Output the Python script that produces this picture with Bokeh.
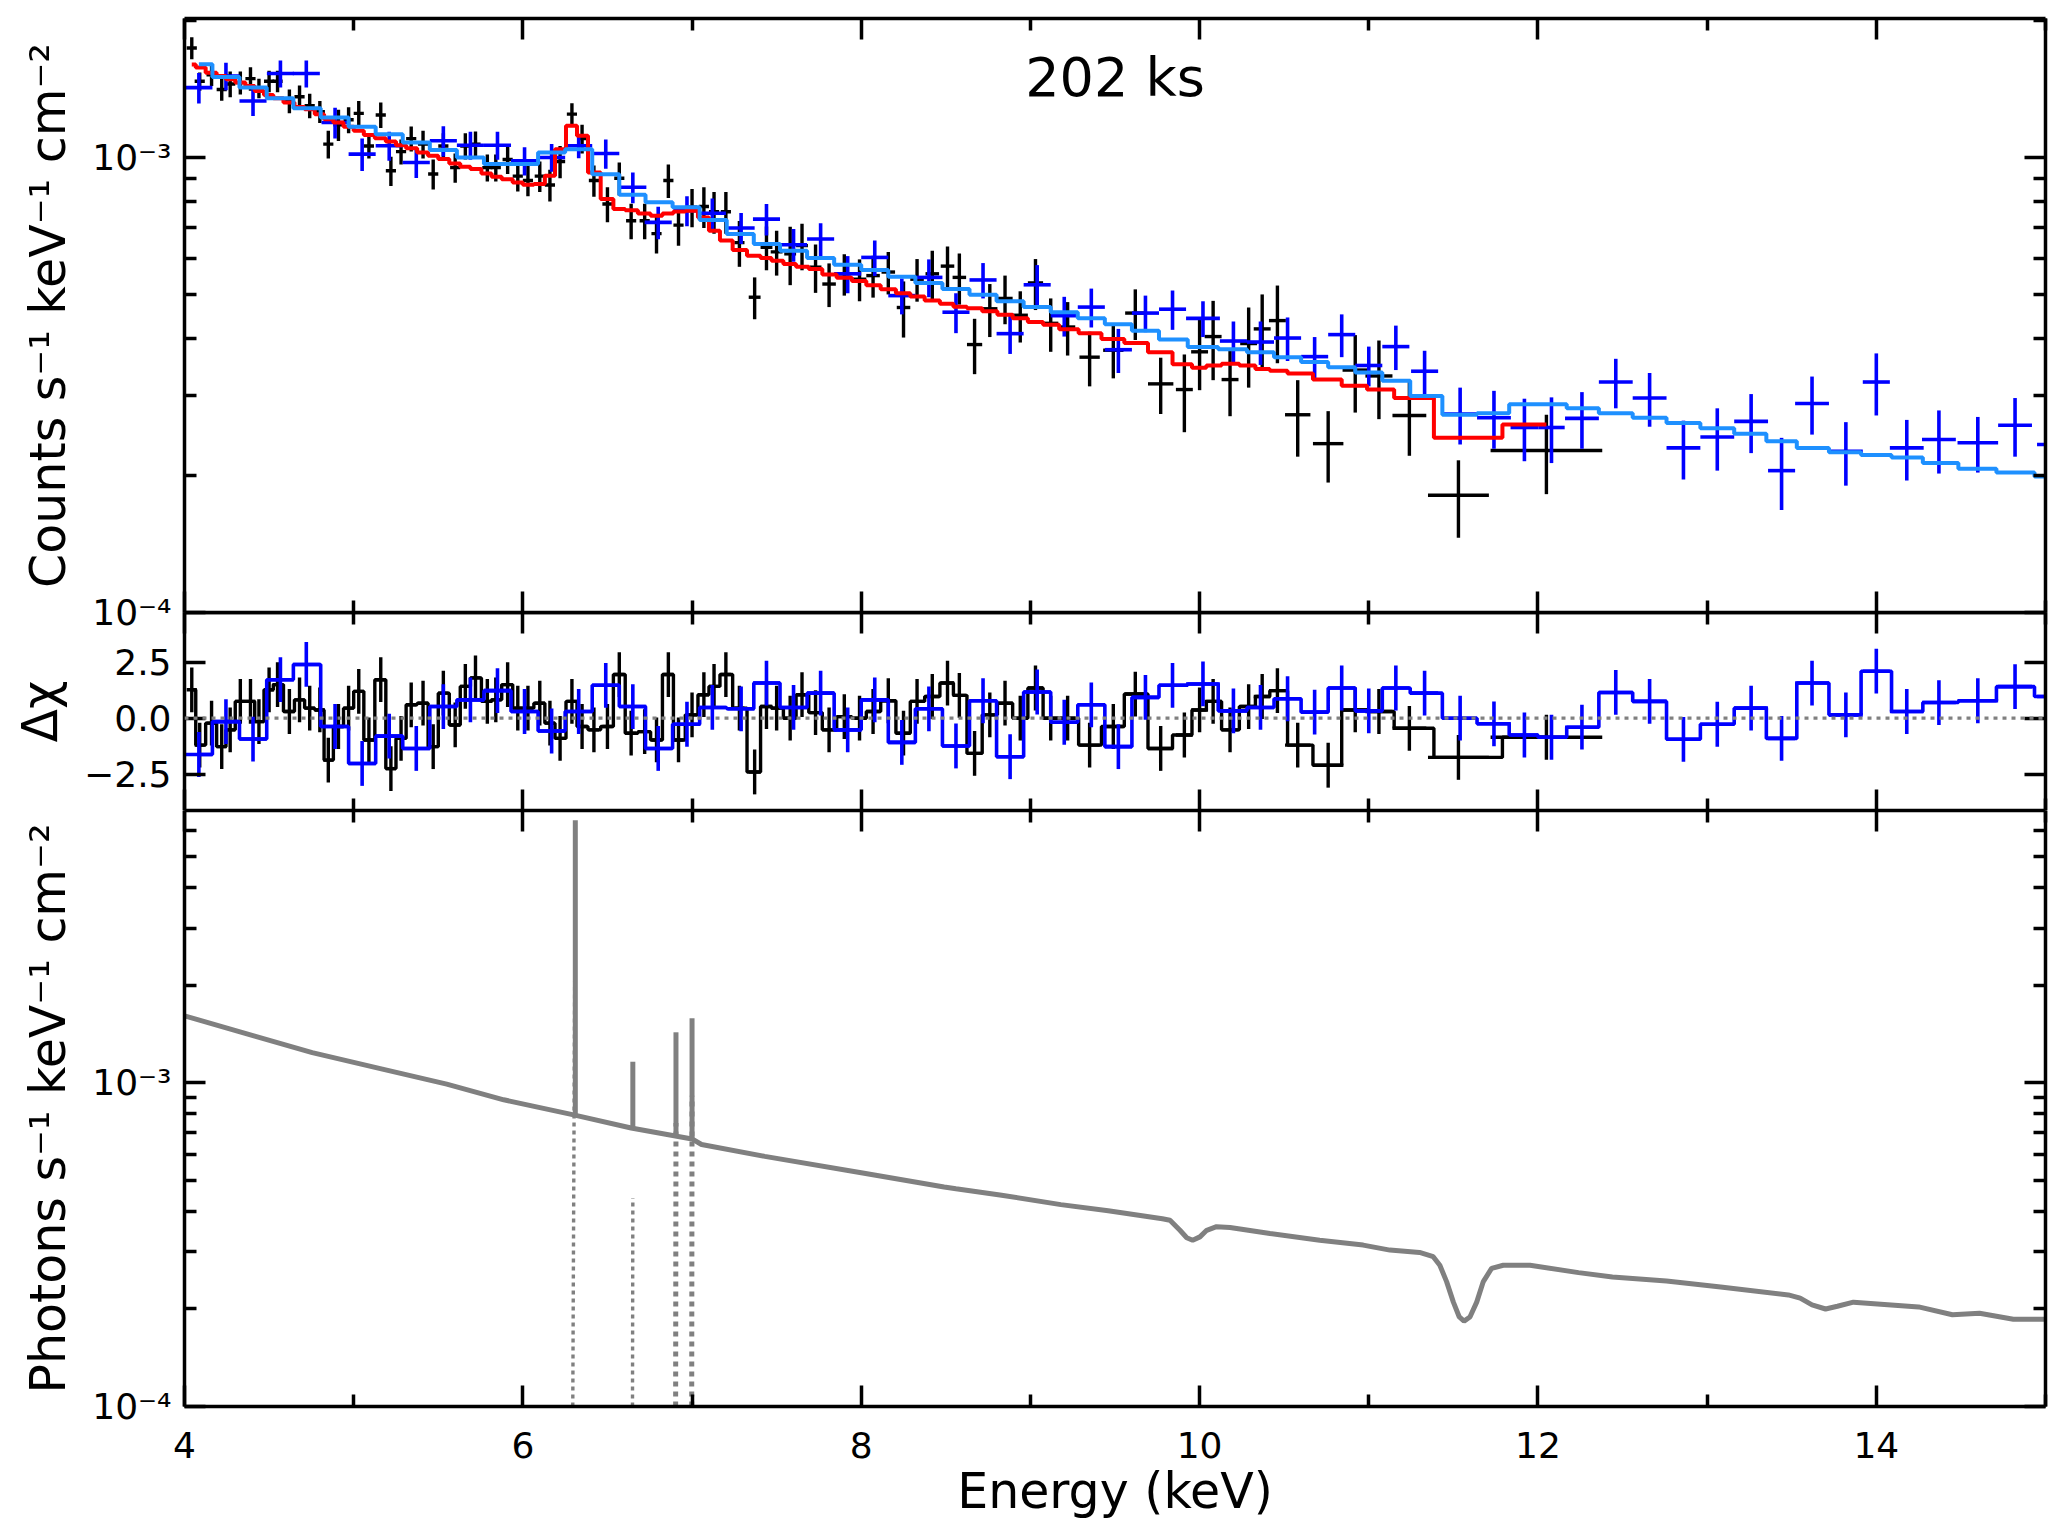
import numpy as np
from bokeh.plotting import figure
from bokeh.layouts import column
from bokeh.models import Range1d, FixedTicker, LinearAxis, LogAxis, CustomJSTickFormatter, Span
from bokeh.core.properties import value
from bokeh.embed import file_html
from bokeh.resources import INLINE

FONT = "DejaVu Sans"

# ---------------- data (values in units of 1e-3 where noted) ----------------
blk_E = [4.043, 4.09, 4.16, 4.22, 4.27, 4.33, 4.39, 4.44, 4.50, 4.55,
         4.62, 4.68, 4.74, 4.80, 4.85, 4.91, 4.97, 5.03, 5.09, 5.16,
         5.22, 5.28, 5.34, 5.41, 5.47, 5.53, 5.60, 5.66, 5.72, 5.79,
         5.84, 5.91, 5.97, 6.03, 6.10, 6.16, 6.22, 6.29, 6.35, 6.42,
         6.50, 6.57, 6.64, 6.72, 6.79, 6.86, 6.92, 7.00, 7.07, 7.13,
         7.20, 7.28, 7.37, 7.44, 7.50, 7.58, 7.65, 7.73,
         7.81, 7.90, 7.99, 8.07, 8.16, 8.25, 8.33, 8.42, 8.51, 8.58,
         8.67, 8.76, 8.85, 8.94, 9.03, 9.12, 9.22, 9.35, 9.49, 9.62,
         9.77, 9.91, 10.0, 10.08, 10.18, 10.29, 10.37, 10.46, 10.58, 10.76,
         10.92, 11.06, 11.24, 11.53, 12.05]
blk_xerr = [0.03, 0.03, 0.03, 0.03, 0.03, 0.03, 0.03, 0.03, 0.03, 0.03,
            0.03, 0.03, 0.03, 0.03, 0.03, 0.03, 0.03, 0.03, 0.03, 0.03,
            0.03, 0.03, 0.03, 0.03, 0.03, 0.03, 0.03, 0.03, 0.03, 0.03,
            0.03, 0.03, 0.03, 0.03, 0.03, 0.03, 0.03, 0.03, 0.03, 0.03,
            0.03, 0.03, 0.03, 0.03, 0.03, 0.03, 0.03, 0.03, 0.03, 0.03,
            0.03, 0.03, 0.035, 0.035, 0.035, 0.035, 0.035, 0.035,
            0.04, 0.04, 0.04, 0.04, 0.04, 0.04, 0.04, 0.04, 0.04, 0.04,
            0.045, 0.045, 0.045, 0.045, 0.045, 0.045, 0.045, 0.06, 0.06, 0.06,
            0.075, 0.05, 0.05, 0.05, 0.05, 0.05, 0.05, 0.05, 0.075, 0.09,
            0.075, 0.08, 0.1, 0.18, 0.33]
blk_val = [1.74, 1.47, 1.52, 1.41, 1.45, 1.46, 1.49, 1.42, 1.47, 1.47,
           1.33, 1.36, 1.30, 1.26, 1.07, 1.18, 1.21, 1.25, 1.06, 1.24,
           0.935, 1.03, 1.10, 1.07, 0.92, 1.06, 0.95, 1.06, 1.07, 0.95,
           0.95, 0.99, 0.91, 0.89, 0.91, 0.87, 0.98, 1.245, 1.10, 0.89,
           0.79, 0.90, 0.726, 0.726, 0.68, 0.89, 0.71, 0.777, 0.78, 0.76,
           0.76, 0.65, 0.493, 0.635, 0.62, 0.614, 0.64, 0.574,
           0.527, 0.555, 0.54, 0.55, 0.56, 0.468, 0.54, 0.555, 0.577, 0.545,
           0.388, 0.465, 0.49, 0.45, 0.53, 0.432, 0.424, 0.364, 0.377, 0.455,
           0.318, 0.309, 0.374, 0.404, 0.325, 0.39, 0.42, 0.438, 0.272, 0.235,
           0.341, 0.331, 0.271, 0.181, 0.227]
blk_err = [0.096, 0.068, 0.085, 0.078, 0.094, 0.085, 0.088, 0.07, 0.08, 0.08,
           0.08, 0.08, 0.08, 0.07, 0.075, 0.093, 0.08, 0.08, 0.065, 0.08,
           0.069, 0.065, 0.07, 0.075, 0.07, 0.07, 0.07, 0.07, 0.07, 0.065,
           0.065, 0.07, 0.068, 0.068, 0.07, 0.07, 0.08, 0.07, 0.08, 0.07,
           0.07, 0.075, 0.065, 0.065, 0.065, 0.075, 0.07, 0.075, 0.08, 0.08,
           0.08, 0.075, 0.052, 0.07, 0.07, 0.09, 0.075, 0.07,
           0.058, 0.058, 0.057, 0.058, 0.06, 0.066, 0.058, 0.069, 0.06, 0.07,
           0.054, 0.062, 0.06, 0.058, 0.068, 0.058, 0.057, 0.05, 0.05, 0.058,
           0.045, 0.06, 0.066, 0.08, 0.055, 0.078, 0.08, 0.085, 0.052, 0.042,
           0.066, 0.065, 0.05, 0.035, 0.045]
blk_mod = [1.60, 1.576, 1.536, 1.51, 1.486, 1.461, 1.436, 1.40, 1.372, 1.349,
           1.32, 1.291, 1.276, 1.245, 1.214, 1.193, 1.168, 1.144, 1.121, 1.102,
           1.084, 1.064, 1.048, 1.026, 1.009, 0.992, 0.970, 0.954, 0.943, 0.922,
           0.907, 0.896, 0.881, 0.871, 0.874, 0.911, 1.043, 1.174, 1.116, 0.927,
           0.810, 0.770, 0.766, 0.753, 0.745, 0.753, 0.761, 0.764, 0.738, 0.690,
           0.657, 0.626, 0.608, 0.601, 0.593, 0.583, 0.575, 0.569,
           0.553, 0.544, 0.535, 0.524, 0.513, 0.503, 0.495, 0.485, 0.477, 0.470,
           0.466, 0.459, 0.451, 0.443, 0.435, 0.429, 0.419, 0.411, 0.399, 0.391,
           0.373, 0.351, 0.345, 0.349, 0.352, 0.349, 0.343, 0.340, 0.335, 0.325,
           0.315, 0.309, 0.296, 0.242, 0.259]
blk_res = [1.27, -1.2, -0.22, -1.27, -0.52, 0.75, 0.75, -0.15, 1.27, 1.5,
           0.3, 0.82, 0.45, 0.37, -1.87, -0.37, 0.45, 1.2, -0.97, 1.72,
           -2.25, -0.9, 0.6, 0.67, -1.27, 1.12, -0.3, 1.42, 1.8, 0.75,
           0.82, 1.5, 0.45, 0.45, 0.67, -0.22, -0.9, 0.75, -0.37, -0.52,
           -0.37, 1.95, -0.67, -0.6, -0.97, 1.95, -0.97, 0.15, 1.05, 1.42,
           1.95, 0.45, -2.4, 0.52, 0.45, 0.0, 1.05, 0.25,
           -0.52, 0.07, 0.0, 0.3, 0.78, -0.67, 0.75, 0.97, 1.57, 1.02,
           -1.57, 0.15, 0.67, 0.0, 1.35, 0.0, 0.0, -1.2, -0.37, 1.08,
           -1.35, -0.75, 0.37, 0.75, -0.52, 0.52, 0.97, 1.23, -1.2, -2.1,
           0.37, 0.3, -0.45, -1.75, -0.85]

blu_E = [4.085, 4.245, 4.405, 4.567, 4.72, 4.89, 5.05, 5.21, 5.37, 5.53,
         5.69, 5.85, 6.01, 6.17, 6.33, 6.49, 6.65, 6.80, 6.97, 7.12,
         7.29, 7.44, 7.60, 7.76, 7.92, 8.08, 8.24, 8.40, 8.56, 8.72,
         8.88, 9.04, 9.20, 9.36, 9.52, 9.68, 9.84, 10.02, 10.20, 10.36,
         10.52, 10.68, 10.84, 11.00, 11.16, 11.33, 11.54, 11.74, 11.92, 12.08,
         12.26, 12.46, 12.66, 12.86, 13.06, 13.26, 13.44, 13.62, 13.82, 14.0,
         14.18, 14.37, 14.60, 14.82, 15.05]
blu_xerr = [0.08, 0.08, 0.08, 0.08, 0.08, 0.08, 0.08, 0.08, 0.08, 0.08,
            0.08, 0.08, 0.08, 0.08, 0.08, 0.08, 0.08, 0.08, 0.08, 0.08,
            0.08, 0.08, 0.08, 0.08, 0.08, 0.08, 0.08, 0.08, 0.08, 0.08,
            0.08, 0.08, 0.08, 0.08, 0.08, 0.08, 0.08, 0.1, 0.08, 0.08,
            0.08, 0.08, 0.08, 0.08, 0.08, 0.08, 0.1, 0.1, 0.082, 0.078,
            0.1, 0.1, 0.1, 0.1, 0.1, 0.1, 0.08, 0.1, 0.1, 0.08,
            0.1, 0.1, 0.12, 0.1, 0.1]
blu_val = [1.424, 1.51, 1.331, 1.529, 1.529, 1.193, 1.017, 1.061, 0.975, 1.088,
           1.064, 1.064, 0.983, 1.0, 1.061, 1.02, 0.86, 0.72, 0.764, 0.754,
           0.70, 0.732, 0.643, 0.662, 0.555, 0.603, 0.497, 0.545, 0.457, 0.538,
           0.410, 0.525, 0.449, 0.469, 0.378, 0.455, 0.464, 0.443, 0.395, 0.393,
           0.401, 0.365, 0.408, 0.349, 0.384, 0.339, 0.273, 0.268, 0.255, 0.255,
           0.267, 0.321, 0.296, 0.230, 0.243, 0.263, 0.205, 0.288, 0.226, 0.321,
           0.230, 0.240, 0.236, 0.258, 0.234]
blu_err = [0.11, 0.105, 0.097, 0.105, 0.105, 0.093, 0.083, 0.078, 0.074, 0.083,
           0.075, 0.075, 0.07, 0.07, 0.065, 0.075, 0.067, 0.059, 0.058, 0.058,
           0.055, 0.058, 0.053, 0.055, 0.052, 0.054, 0.045, 0.052, 0.046, 0.048,
           0.04, 0.055, 0.045, 0.046, 0.042, 0.042, 0.046, 0.040, 0.041, 0.043,
           0.044, 0.038, 0.044, 0.035, 0.043, 0.037, 0.039, 0.039, 0.04, 0.042,
           0.038, 0.04, 0.04, 0.034, 0.038, 0.039, 0.037, 0.042, 0.036, 0.05,
           0.035, 0.038, 0.033, 0.038, 0.036]
blu_mod = [1.603, 1.503, 1.424, 1.35, 1.283, 1.224, 1.168, 1.125, 1.079, 1.038,
           1.0, 0.967, 0.967, 1.026, 1.043, 0.919, 0.828, 0.797, 0.777, 0.729,
           0.679, 0.645, 0.624, 0.601, 0.581, 0.566, 0.547, 0.530, 0.514, 0.499,
           0.483, 0.469, 0.457, 0.443, 0.430, 0.416, 0.398, 0.383, 0.379, 0.373,
           0.364, 0.355, 0.346, 0.337, 0.323, 0.299, 0.272, 0.274, 0.287, 0.287,
           0.281, 0.274, 0.268, 0.261, 0.254, 0.247, 0.238, 0.230, 0.225, 0.222,
           0.219, 0.213, 0.207, 0.203, 0.199]
blu_res = [-1.62, -0.15, -0.93, 1.72, 2.4, -0.37, -2.02, -0.8, -1.35, 0.52,
           0.82, 1.23, 0.3, -0.57, 0.3, 1.47, 0.52, -1.35, -0.27, 0.48,
           0.42, 1.57, 0.48, 1.12, -0.52, 0.82, -1.08, 0.42, -1.24, 0.78,
           -1.72, 1.17, -0.18, 0.6, -1.27, 0.93, 1.47, 1.53, 0.33, 0.48,
           0.87, 0.27, 1.35, 0.33, 1.35, 1.12, 0.0, -0.25, -0.75, -0.85,
           -0.4, 1.15, 0.75, -0.94, -0.27, 0.45, -0.9, 1.57, 0.15, 2.1,
           0.3, 0.7, 0.78, 1.41, 0.97]
RES_ERR = 1.0  # residuals in units of sigma

# unfolded model (photons), units 1e-3
cont_E = [4.0, 4.415, 4.755, 5.17, 5.55, 5.887, 6.30, 6.64, 7.0, 7.056,
          7.43, 8.0, 8.49, 8.56, 8.82, 9.18, 9.46, 9.78, 9.825, 9.884,
          9.924, 9.959, 10.002, 10.042, 10.10, 10.18, 10.416, 10.71, 10.967, 11.125,
          11.30, 11.381, 11.42, 11.46, 11.50, 11.535, 11.563, 11.598, 11.638, 11.677,
          11.726, 11.795, 11.953, 12.24, 12.44, 12.76, 13.08, 13.48, 13.55, 13.62,
          13.70, 13.77, 13.865, 14.25, 14.45, 14.61, 14.81, 15.0]
cont_val = [1.607, 1.392, 1.237, 1.101, 0.989, 0.885, 0.795, 0.724, 0.670, 0.644,
            0.592, 0.527, 0.476, 0.470, 0.450, 0.420, 0.402, 0.380, 0.376, 0.350,
            0.332, 0.326, 0.334, 0.350, 0.359, 0.357, 0.342, 0.326, 0.315, 0.304,
            0.299, 0.290, 0.273, 0.243, 0.210, 0.189, 0.1835, 0.189, 0.210, 0.243,
            0.267, 0.273, 0.273, 0.259, 0.251, 0.244, 0.234, 0.221, 0.216, 0.206,
            0.200, 0.204, 0.210, 0.203, 0.192, 0.194, 0.186, 0.186]
line_E = [6.31, 6.65, 6.905, 7.0]
line_base = [0.794, 0.722, 0.684, 0.670]
line_top = [6.46, 1.16, 1.43, 1.58]
comp_E_low = [6.295, 6.648, 6.903, 6.998]
comp_peak = [5.67, 0.44, 0.75, 0.91]
comp_floor = 1e-4

TITLE_E = [9.5]
TITLE_V = [1.5e-3]
TITLE = ["202 ks"]

x_major = [4, 6, 8, 10, 12, 14]
x_minor = [5, 7, 9, 11, 13, 15]
y1_major = [1e-4, 1e-3]
y1_minor = [2e-4, 3e-4, 4e-4, 5e-4, 6e-4, 7e-4, 8e-4, 9e-4, 2e-3]
y2_major = [-2.5, 0.0, 2.5]
y3_minor = [2e-4, 3e-4, 4e-4, 5e-4, 6e-4, 7e-4, 8e-4, 9e-4, 2e-3, 3e-3, 4e-3, 5e-3, 6e-3]

S = 1e-3

LOG_JS = """
const e = Math.round(Math.log10(tick));
const sup = {"-": "\\u207b", "0": "\\u2070", "1": "\\u00b9", "2": "\\u00b2", "3": "\\u00b3",
             "4": "\\u2074", "5": "\\u2075", "6": "\\u2076", "7": "\\u2077", "8": "\\u2078", "9": "\\u2079"};
return "10" + String(e).split("").map((c) => sup[c]).join("");
"""
RES_JS = """return tick.toFixed(1).replace("-", "\\u2212");"""

FRAME_W = 1861
LEFT = 184
RIGHT = 18
LW = 3.5
GRAY = "#808080"


def style_axis(ax, show):
    ax.axis_line_color = "black"
    ax.axis_line_width = LW
    ax.major_tick_in = 21
    ax.major_tick_out = 0
    ax.minor_tick_in = 12
    ax.minor_tick_out = 0
    ax.major_tick_line_width = LW
    ax.minor_tick_line_width = LW
    ax.major_tick_line_color = "black"
    ax.minor_tick_line_color = "black"
    if show:
        ax.major_label_text_font = FONT
        ax.major_label_text_font_size = "36px"
        ax.major_label_text_color = "black"
        ax.axis_label_text_font = FONT
        ax.axis_label_text_font_size = "49px"
        ax.axis_label_text_font_style = "normal"
        ax.axis_label_text_color = "black"
    else:
        ax.major_label_text_font_size = "1px"
        ax.major_label_text_color = None
        ax.major_label_standoff = 0
        ax.axis_label = None


def add_axes(p, ylog, ymaj, ymin, yjs, ylabel, xlabel=None):
    for side in ("left", "right"):
        cls = LogAxis if ylog else LinearAxis
        ax = cls(ticker=FixedTicker(ticks=ymaj, minor_ticks=ymin))
        show = side == "left"
        if show:
            ax.formatter = CustomJSTickFormatter(code=yjs)
            ax.axis_label = ylabel
            ax.major_label_standoff = 13
            ax.axis_label_standoff = 12
        style_axis(ax, show)
        p.add_layout(ax, side)
    for side in ("above", "below"):
        ax = LinearAxis(ticker=FixedTicker(ticks=x_major, minor_ticks=x_minor))
        show = (side == "below") and (xlabel is not None)
        if show:
            ax.axis_label = xlabel
            ax.major_label_standoff = 25
            ax.axis_label_standoff = 2
        style_axis(ax, show)
        p.add_layout(ax, side)


def make_fig(frame_h, yr, ylog, top, bottom):
    p = figure(frame_width=FRAME_W, frame_height=frame_h, x_range=xr, y_range=yr,
               y_axis_type="log" if ylog else "linear",
               x_axis_location=None, y_axis_location=None,
               toolbar_location=None, output_backend="svg",
               min_border=0, min_border_left=LEFT, min_border_right=RIGHT,
               min_border_top=top, min_border_bottom=bottom)
    p.grid.visible = False
    p.outline_line_color = None
    p.background_fill_color = "white"
    p.border_fill_color = None
    return p


xr = Range1d(4, 15)

# ---------------- panel 1: folded spectra ----------------
bE, bX, bV, bEr, bM = map(np.array, (blk_E, blk_xerr, blk_val, blk_err, blk_mod))
uE, uX, uV, uEr, uM = map(np.array, (blu_E, blu_xerr, blu_val, blu_err, blu_mod))

p1 = make_fig(594, Range1d(1e-4, 2.02e-3), True, 18, 26)
p1.styles = {"margin-bottom": "-26px", "z-index": "5", "position": "relative"}
add_axes(p1, True, y1_major, y1_minor, LOG_JS, "Counts s\u207b\u00b9 keV\u207b\u00b9 cm\u207b\u00b2")

p1.segment(bE - bX, bV * S, bE + bX, bV * S, line_color="black", line_width=3.4)
p1.segment(bE, (bV - bEr) * S, bE, (bV + bEr) * S, line_color="black", line_width=3.4)
p1.segment(uE - uX, uV * S, uE + uX, uV * S, line_color="#0000ff", line_width=3.6)
p1.segment(uE, (uV - uEr) * S, uE, (uV + uEr) * S, line_color="#0000ff", line_width=3.6)
p1.step(bE, bM * S, mode="center", line_color="#ff0000", line_width=4)
p1.step(uE, uM * S, mode="center", line_color="#1e90ff", line_width=4)
p1.text(x=TITLE_E, y=TITLE_V, text=TITLE, text_align="center", text_baseline="middle",
        text_font=value(FONT), text_font_size="54px", text_color="black")

# ---------------- panel 2: residuals ----------------
bR = np.array(blk_res)
uR = np.array(blu_res)
p2 = make_fig(198, Range1d(-4.12, 4.72), False, 0, 0)
add_axes(p2, False, y2_major, [], RES_JS, "\u0394\u03c7")
p2.add_layout(Span(location=0, dimension="width", line_color=GRAY, line_width=3.2,
                   line_dash="4 5"))
p2.step(bE, bR, mode="center", line_color="black", line_width=3.4)
p2.segment(bE - bX, bR, bE + bX, bR, line_color="black", line_width=3.4)
p2.segment(bE, bR - RES_ERR, bE, bR + RES_ERR, line_color="black", line_width=3.4)
p2.step(uE, uR, mode="center", line_color="#0000ff", line_width=3.6)
p2.segment(uE - uX, uR, uE + uX, uR, line_color="#0000ff", line_width=3.6)
p2.segment(uE, uR - RES_ERR, uE, uR + RES_ERR, line_color="#0000ff", line_width=3.6)

# ---------------- panel 3: unfolded model ----------------
p3 = make_fig(596, Range1d(1e-4, 6.92e-3), True, 0, 20)
add_axes(p3, True, y1_major, y3_minor, LOG_JS, "Photons s\u207b\u00b9 keV\u207b\u00b9 cm\u207b\u00b2",
         xlabel="Energy (keV)")
lE = np.array(line_E)
cL = np.array(comp_E_low)
cP = np.array(comp_peak) * S
p3.segment(cL[:2], [comp_floor, comp_floor], lE[:2], cP[:2], line_color=GRAY,
           line_width=3.4, line_dash="4 4")
p3.segment(cL[2:], [comp_floor, comp_floor], lE[2:], cP[2:], line_color=GRAY,
           line_width=5, line_dash="5 5")
p3.line(cont_E, np.array(cont_val) * S, line_color=GRAY, line_width=5)
p3.segment(lE, np.array(line_base) * S, lE, np.array(line_top) * S, line_color=GRAY,
           line_width=5)

layout = column(p1, p2, p3, spacing=0)
open("out.html", "w").write(file_html(layout, INLINE))
